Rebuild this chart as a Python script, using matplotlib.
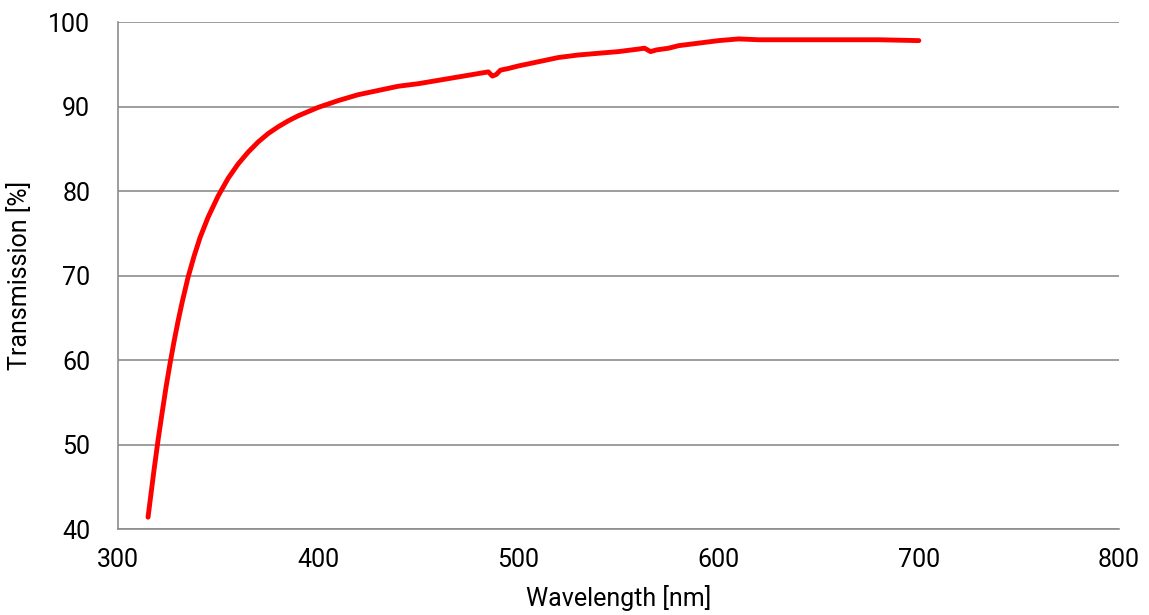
import matplotlib
matplotlib.use('Agg')
import matplotlib.pyplot as plt

plt.rcParams['font.family'] = ['Roboto', 'DejaVu Sans']

# values
wavelength = [315, 318, 320, 322, 324, 326, 328, 330, 332, 335, 338, 341, 345,
              350, 355, 360, 365, 370, 375, 380, 385, 390, 395, 400, 410, 420,
              430, 440, 450, 460, 470, 480, 485, 487, 489, 491, 495, 500, 510,
              520, 530, 540, 550, 560, 563, 566, 569, 575, 580, 590, 600, 610,
              620, 640, 660, 680, 700]
transmission = [41.4, 47.0, 50.5, 53.7, 56.8, 59.6, 62.2, 64.6, 66.8, 69.8,
                72.3, 74.5, 76.9, 79.4, 81.5, 83.2, 84.6, 85.8, 86.8, 87.6,
                88.3, 88.9, 89.4, 89.9, 90.7, 91.4, 91.9, 92.4, 92.7, 93.1,
                93.5, 93.9, 94.1, 93.6, 93.8, 94.3, 94.5, 94.8, 95.3, 95.8,
                96.1, 96.3, 96.5, 96.8, 96.9, 96.5, 96.7, 96.9, 97.2, 97.5,
                97.8, 98.0, 97.9, 97.9, 97.9, 97.9, 97.8]

fig = plt.figure(figsize=(11.49, 6.15), dpi=100)
ax = fig.add_axes([0.1027, 0.1398, 0.8712, 0.8244])

ax.plot(wavelength, transmission, color='#ff0000', lw=3.5, solid_capstyle='round',
        solid_joinstyle='round')

ax.set_xlim(300, 800)
ax.set_ylim(40, 100)
ax.set_xticks(range(300, 801, 100))
ax.set_yticks(range(40, 101, 10))
ax.yaxis.grid(True, color='#8c8c8c', lw=1.2)
ax.set_axisbelow(True)
ax.tick_params(length=0, labelsize=18)
ax.tick_params(axis='x', pad=14)
ax.tick_params(axis='y', pad=20)
for s in ['top', 'right']:
    ax.spines[s].set_visible(False)
for s in ['left', 'bottom']:
    ax.spines[s].set_color('#8c8c8c')
    ax.spines[s].set_linewidth(1.2)

ax.set_xlabel('Wavelength [nm]', fontsize=18, labelpad=9)
ax.set_ylabel('Transmission [%]', fontsize=18, labelpad=12)

fig.savefig('out.png', dpi=100)
